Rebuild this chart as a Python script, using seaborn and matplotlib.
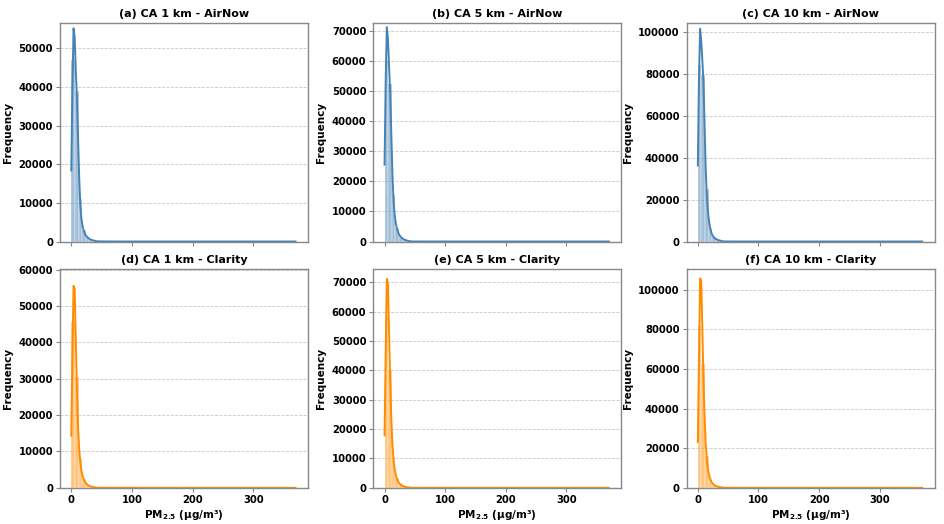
import pandas as pd
import matplotlib
matplotlib.use('Agg')
import matplotlib.pyplot as plt
from matplotlib.ticker import MultipleLocator
import seaborn as sns

# PM2.5 values (μg/m³) on a 2-unit grid plus a sparse tail up to the max
pm_grid = [0, 2, 4, 6, 8, 10, 12, 14, 16, 18, 20, 22, 24, 26, 28, 30, 32, 34, 36, 38, 40,
           46, 55, 70, 100, 160, 260, 370]
tail = [30, 15, 6, 3, 2, 1, 1]

# frequencies
freq_a = [3000, 12000, 32000, 10000, 16000, 13000, 6000, 3200, 1800, 1400, 1000, 600,
          500, 400, 300, 220, 160, 120, 90, 70, 50] + tail
freq_b = [2500, 22000, 35800, 13600, 23000, 15700, 8000, 4500, 3000, 2000, 1500, 1000,
          700, 550, 400, 300, 220, 160, 120, 90, 70] + tail
freq_c = [4000, 32500, 48000, 20000, 34500, 25200, 12000, 7500, 5400, 3000, 2200, 1300,
          900, 700, 500, 380, 280, 200, 150, 110, 80] + tail
freq_d = [500, 6700, 38500, 11500, 13500, 5500, 3900, 2500, 1500, 1100, 800, 550,
          400, 300, 220, 160, 120, 90, 70, 50, 40] + tail
freq_e = [500, 9700, 48000, 12800, 19200, 8100, 5300, 3300, 2000, 1500, 1000, 700,
          500, 380, 280, 200, 150, 110, 85, 65, 50] + tail
freq_f = [500, 12200, 69500, 21400, 27600, 13200, 8000, 5000, 3000, 2200, 1500, 1000,
          700, 550, 400, 300, 220, 160, 120, 90, 70] + tail

titles = ['(a) CA 1 km - AirNow', '(b) CA 5 km - AirNow', '(c) CA 10 km - AirNow',
          '(d) CA 1 km - Clarity', '(e) CA 5 km - Clarity', '(f) CA 10 km - Clarity']
freqs = [freq_a, freq_b, freq_c, freq_d, freq_e, freq_f]
y_top = [56700, 72900, 104700, 60200, 74600, 110400]
colors = ['steelblue'] * 3 + ['darkorange'] * 3

plt.rcParams['font.family'] = 'DejaVu Sans'
plt.rcParams['font.weight'] = 'bold'
plt.rcParams['axes.labelweight'] = 'bold'
plt.rcParams['axes.titleweight'] = 'bold'
plt.rcParams['mathtext.default'] = 'bf'

fig, axes = plt.subplots(2, 3, figsize=(9.45, 5.24), dpi=100, sharex=True)
fig.subplots_adjust(left=0.0635, right=0.989, top=0.957, bottom=0.069,
                    wspace=0.263, hspace=0.125)

for ax, title, fr, col, yt in zip(axes.flat, titles, freqs, colors, y_top):
    df = pd.DataFrame({'pm': pm_grid, 'n': fr})
    sns.histplot(data=df, x='pm', weights='n', binwidth=6, binrange=(0, 372),
                 kde=True, color=col, alpha=0.5, edgecolor='white', linewidth=0.25,
                 kde_kws={'bw_adjust': 0.5}, line_kws={'linewidth': 1.4}, ax=ax)
    ax.set_ylim(0, yt)
    ax.set_title(title, fontsize=8, pad=4)
    ax.set_ylabel('Frequency', fontsize=7.5)
    ax.set_xlabel('')
    ax.xaxis.set_major_locator(MultipleLocator(100))
    ax.grid(axis='y', linestyle='--', color='#bbbbbb', linewidth=0.6, alpha=0.8)
    ax.set_axisbelow(True)
    ax.tick_params(labelsize=7.2, color='#888888', length=3, pad=2)
    for s in ax.spines.values():
        s.set_color('#888888')
        s.set_linewidth(1)

for ax in axes[1]:
    ax.set_xlabel('PM$_{2.5}$ (μg/m³)', fontsize=7.5, labelpad=2)

fig.savefig('out.png', dpi=100)
